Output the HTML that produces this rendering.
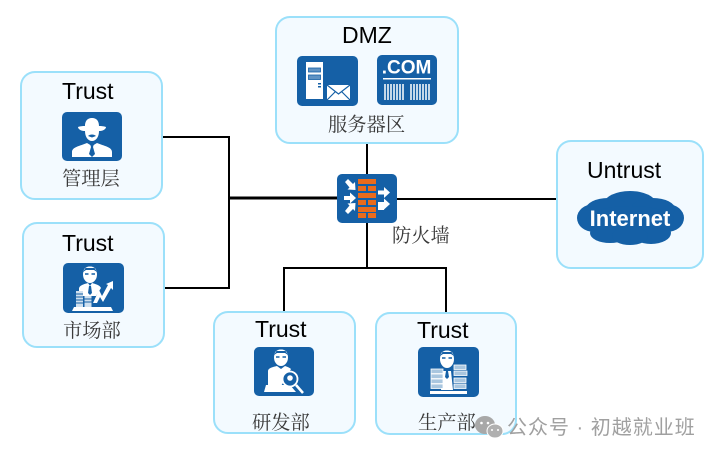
<!DOCTYPE html>
<html><head><meta charset="utf-8"><style>
html,body{margin:0;padding:0;background:#fff;width:716px;height:456px;overflow:hidden}
svg{display:block}
.t{font-family:"Liberation Sans",sans-serif;font-size:23px;fill:#000}
.c{font-family:"Liberation Serif","Noto Serif CJK SC",serif;font-size:19.300px;fill:#3a3a3a}
.b{fill:#f3faff;stroke:#9be0fa;stroke-width:2}
.i{fill:#1560a6}
.w{fill:#fff}
</style></head><body>
<svg width="716" height="456" viewBox="0 0 716 456" xmlns="http://www.w3.org/2000/svg">
<!-- connectors -->
<g fill="none" stroke="#000" stroke-width="2">
<path d="M162 137H229V288H165"/>
<path d="M229 198H337" stroke-width="3"/>
<path d="M367 143V174"/>
<path d="M397 199H557"/>
<path d="M367 223V268"/>
<path d="M284 312V268H446V313"/>
</g>
<!-- boxes -->
<rect class="b" x="276" y="17" width="182" height="126" rx="14"/>
<rect class="b" x="21" y="72" width="141" height="127" rx="14"/>
<rect class="b" x="23" y="223" width="141" height="124" rx="14"/>
<rect class="b" x="557" y="141" width="146" height="127" rx="14"/>
<rect class="b" x="214" y="312" width="141" height="121" rx="14"/>
<rect class="b" x="376" y="313" width="140" height="121" rx="14"/>
<!-- labels -->
<text class="t" x="342" y="43">DMZ</text>
<text class="t" x="62" y="99">Trust</text>
<text class="t" x="62" y="251">Trust</text>
<text class="t" x="587" y="178">Untrust</text>
<text class="t" x="255" y="337">Trust</text>
<text class="t" x="417" y="338">Trust</text>
<text class="c" x="328" y="131">服务器区</text>
<text class="c" x="62" y="185">管理层</text>
<text class="c" x="63" y="337">市场部</text>
<text class="c" x="392" y="242">防火墙</text>
<text class="c" x="252" y="429">研发部</text>
<text class="c" x="418" y="429">生产部</text>
<!-- server icon -->
<rect class="i" x="297" y="56" width="61" height="50" rx="5"/>
<rect class="w" x="306" y="62" width="17" height="37"/>
<g fill="#5f93c4" stroke="#1560a6" stroke-width=".8"><rect x="308.500" y="68" width="12" height="4"/><rect x="308.500" y="75" width="12" height="4.500"/></g>
<g fill="#1560a6"><rect x="318" y="83" width="3" height="1.500"/><rect x="318" y="86" width="3" height="1.500"/></g>
<rect class="w" x="327" y="85" width="23" height="15"/>
<path d="M327 85l11.500 9 11.500-9M327 100l8-8M350 100l-8-8" fill="none" stroke="#1560a6" stroke-width="1.200"/>
<!-- com icon -->
<rect class="i" x="377" y="55" width="60" height="50" rx="5"/>
<text x="406.500" y="73.500" text-anchor="middle" font-family="Liberation Sans,sans-serif" font-weight="bold" font-size="19" fill="#fff">.COM</text>
<rect class="w" x="383" y="78" width="48" height="1.500"/>
<path d="M385 84v16M388 84v16M391 84v16M394 84v16M397 84v16M400 84v16M403 84v16M411 84v16M414 84v16M417 84v16M420 84v16M423 84v16M426 84v16M429 84v16" stroke="#fff" stroke-width="1.500"/>
<!-- manager icon -->
<rect class="i" x="62" y="112" width="60" height="49" rx="5"/>
<path d="M78 127c3-1 6-1 7-1 0-3 1-8 7-8s7 5 7 8c1 0 4 0 7 1 0 2-3 4-6 4H84c-3 0-6-2-6-4z" class="w"/>
<path d="M85 131h14c0 6-3 10-7 10s-7-4-7-10z" class="w"/>
<path d="M88 136c2-2 6-2 8 0l-4 1.500z" fill="#1560a6"/>
<path d="M72 157v-5c0-5 8-6 15-9l5 3 5-3c7 3 15 4 15 9v5z" class="w"/>
<path d="M90 144h4l-1 3 2 7-3 3-3-3 2-7z" fill="#1560a6"/>
<!-- market icon -->
<rect class="i" x="63" y="263" width="61" height="50" rx="5"/>
<ellipse cx="90" cy="274.500" rx="7" ry="8.500" fill="#fff"/>
<path d="M83 272c0-8 14-8 14 0l-3-2h-8z" fill="#1560a6"/>
<path d="M83.500 271c1-6 12-6 13 0l-2-3h-9z" class="w"/>
<path d="M85 274h3.500M91.500 274h3.500" stroke="#1560a6" stroke-width="1.500"/>
<path d="M79 296v-7c0-4 6-5 9-6l2 3 2-3c3 1 8 2 9 5l-5 8z" class="w"/>
<path d="M89 286h2l1 7-2 2-2-2z" fill="#1560a6"/>
<path d="M93 303l6-13 3 6 6-11-2-1 7-3v9l-2-2-8 14-3-5-3 6z" class="w"/>
<rect x="76" y="291" width="7" height="16" fill="#cfe0ef"/><rect x="84.500" y="296" width="7" height="11" fill="#cfe0ef"/>
<path d="M76 294h7M76 297h7M76 300h7M76 303h7M84.500 299h7M84.500 302h7" stroke="#1560a6"/>
<path d="M74 307h37l2 4H72z" class="w"/>
<!-- firewall -->
<rect class="i" x="337" y="174" width="60" height="49" rx="5"/>
<g fill="#ea6b1c">
<rect x="358" y="179" width="18" height="5"/>
<rect x="358" y="186" width="8" height="5"/><rect x="368" y="186" width="8" height="5"/>
<rect x="358" y="193" width="18" height="5"/>
<rect x="358" y="200" width="8" height="5"/><rect x="368" y="200" width="8" height="5"/>
<rect x="358" y="207" width="18" height="5"/>
<rect x="358" y="213" width="8" height="5"/><rect x="368" y="213" width="8" height="5"/>
</g>
<g fill="#fff">
<path d="M345 182l3-3 5 5 2-2 .5 8-8-.500 2-2z"/>
<path d="M344 196h6v-3.500l6 5.500-6 5.500v-3.500h-6z"/>
<path d="M345 211l3 3 5-5 2 2 .5-8-8 .500 2 2z"/>
<path d="M378 190.500h6v-3.500l6 5.500-6 5.500v-3.500h-6z"/>
<path d="M378 202h6v-3.500l6 5.500-6 5.500V210h-6z"/>
</g>
<!-- cloud -->
<g class="i">
<ellipse cx="594" cy="218" rx="17" ry="14"/>
<ellipse cx="667" cy="218" rx="17" ry="14"/>
<ellipse cx="630" cy="204" rx="26" ry="13"/>
<ellipse cx="608" cy="209" rx="22" ry="11"/>
<ellipse cx="653" cy="209" rx="22" ry="11"/>
<ellipse cx="630" cy="220" rx="44" ry="14"/>
<ellipse cx="610" cy="233" rx="20" ry="10"/>
<ellipse cx="651" cy="233" rx="20" ry="11"/>
<ellipse cx="630" cy="236" rx="18" ry="9"/>
</g>
<text x="630" y="226" text-anchor="middle" font-family="Liberation Sans,sans-serif" font-weight="bold" font-size="22" fill="#fff">Internet</text>
<!-- research icon -->
<rect class="i" x="254" y="347" width="60" height="49" rx="5"/>
<ellipse cx="281" cy="357.500" rx="7" ry="8.500" fill="#fff"/>
<path d="M274 355c0-8 14-8 14 0l-3-2h-8z" fill="#1560a6"/>
<path d="M274.500 354c1-6 12-6 13 0l-2-3h-9z" class="w"/>
<path d="M276 357h3.500M282.500 357h3.500" stroke="#1560a6" stroke-width="1.500"/>
<path d="M268 386v-15c0-3 5-4 9-5l4 3 4-3c3 1 5 2 6 3l-8 14-2 3z" class="w"/>
<path d="M264 392l2-7h24l6 7z" class="w"/>
<circle cx="290" cy="379" r="7.500" fill="#1560a6" stroke="#fff" stroke-width="1.800"/>
<circle cx="290" cy="378" r="2.800" class="w"/>
<path d="M296 385l7 8" stroke="#fff" stroke-width="2.500"/>
<!-- production icon -->
<rect class="i" x="418" y="347" width="61" height="50" rx="5"/>
<ellipse cx="447" cy="359" rx="7" ry="9" fill="#fff"/>
<path d="M440 356c0-8 14-8 14 0l-3-2h-8z" fill="#1560a6"/>
<path d="M440.500 355c1-6 12-6 13 0l-2-3h-9z" class="w"/>
<path d="M442 358h3.500M448.500 358h3.500" stroke="#1560a6" stroke-width="1.500"/>
<path d="M443 371h8l2 19h-12z" class="w"/>
<path d="M446 371h2l1 6-2 2-2-2z" fill="#1560a6"/>
<g fill="#a9c6df" stroke="#fff" stroke-width=".8">
<rect x="431" y="369" width="12" height="4.500"/><rect x="431" y="374" width="12" height="4.500"/><rect x="431" y="379" width="12" height="4.500"/><rect x="431" y="384" width="12" height="4.500"/>
<rect x="454" y="365" width="12" height="4.500"/><rect x="454" y="371" width="13" height="4.500"/><rect x="454" y="378" width="12" height="4.500"/><rect x="454" y="384" width="12" height="4.500"/>
</g>
<rect class="w" x="430" y="391" width="37" height="3"/>
<!-- watermark -->
<ellipse cx="485" cy="425" rx="10" ry="9" fill="#a8a8a8"/>
<ellipse cx="495" cy="431" rx="8" ry="7" fill="#b0b0b0" stroke="#fff" stroke-width="1"/>
<g fill="#fff"><circle cx="481.500" cy="423" r="1.300"/><circle cx="488" cy="423" r="1.300"/><circle cx="492" cy="430" r="1"/><circle cx="498" cy="430" r="1"/></g>
<text x="507" y="434" font-family="Liberation Sans,'Noto Sans CJK SC',sans-serif" font-size="20" letter-spacing="1" fill="#a0a0a0">公众号 · 初越就业班</text>
</svg>
</body></html>
